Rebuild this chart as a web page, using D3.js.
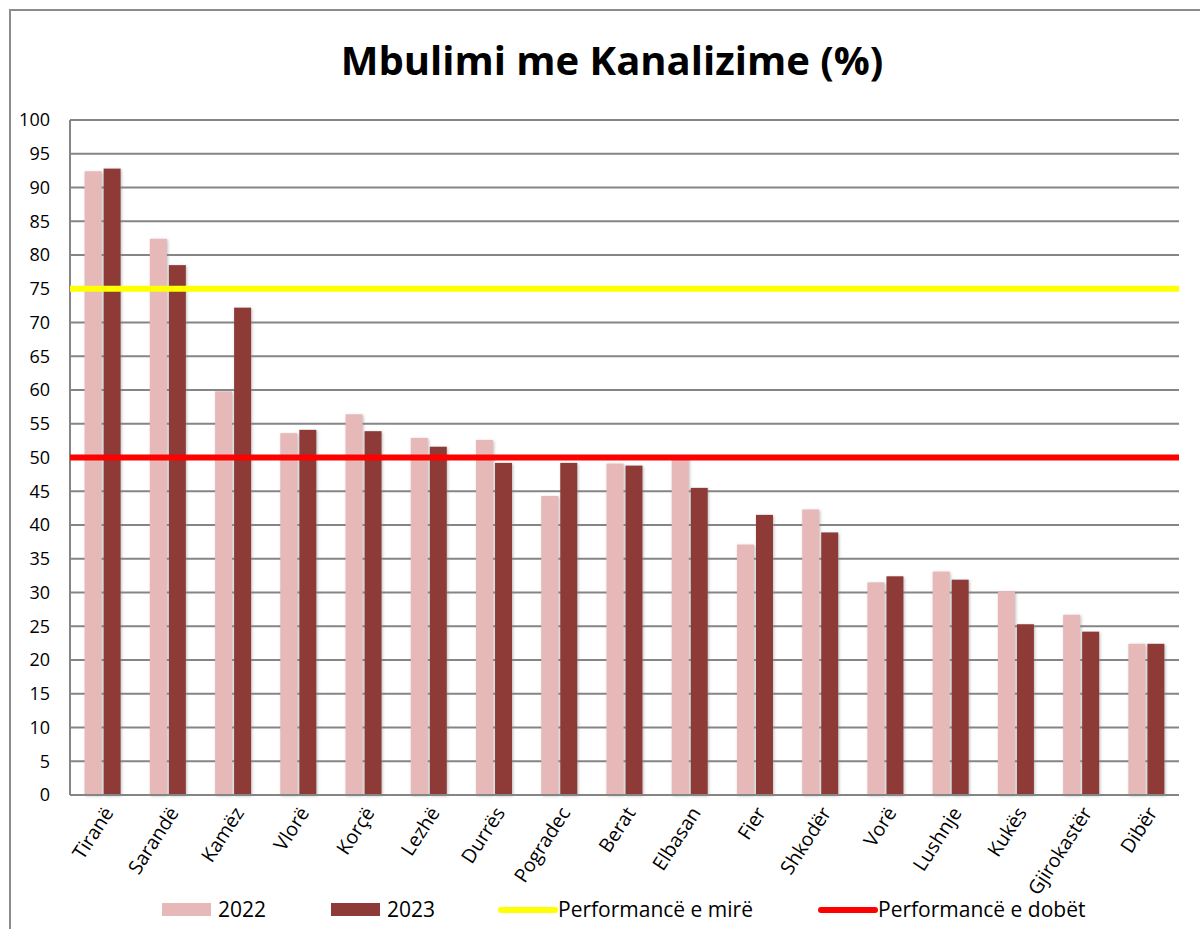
<!DOCTYPE html>
<html>
<head>
<meta charset="utf-8">
<script src="https://cdn.jsdelivr.net/npm/d3@7"></script>
<style>
  body { margin: 0; background: #fff; }
  svg { display: block; font-family: "Open Sans", sans-serif; }
</style>
</head>
<body>
<div id="chart"></div>
<script>
// Data
const cities = ["Tiranë", "Sarandë", "Kamëz", "Vlorë", "Korçë", "Lezhë", "Durrës", "Pogradec",
    "Berat", "Elbasan", "Fier", "Shkodër", "Vorë", "Lushnje", "Kukës", "Gjirokastër", "Dibër"];
const values2022 = [92.4, 82.4, 59.8, 53.6, 56.4, 52.9, 52.6, 44.3, 49.1, 50.1, 37.1, 42.3, 31.5, 33.1, 30.2, 26.7, 22.4];
const values2023 = [92.8, 78.5, 72.2, 54.1, 53.9, 51.6, 49.2, 49.2, 48.8, 45.5, 41.5, 38.9, 32.4, 31.9, 25.3, 24.2, 22.4];
const goodLevel = 75;
const poorLevel = 50;
const yTicks = d3.range(0, 101, 5);

const W = 1200, H = 929;
const margin = { top: 120, right: 21, bottom: 134, left: 70 };
const width = W - margin.left - margin.right;
const height = H - margin.top - margin.bottom;

const svg = d3.select("#chart").append("svg").attr("width", W).attr("height", H);

const defs = svg.append("defs");
const shadow = defs.append("filter").attr("id", "shadow")
    .attr("x", "-30%").attr("y", "-5%").attr("width", "160%").attr("height", "110%");
shadow.append("feDropShadow")
    .attr("dx", 1).attr("dy", 1).attr("stdDeviation", 1.5)
    .attr("flood-color", "#888").attr("flood-opacity", 0.55);

// outer border
svg.append("rect")
    .attr("x", 10).attr("y", 10).attr("width", W + 10).attr("height", H + 10)
    .attr("fill", "none").attr("stroke", "#8c8c8c").attr("stroke-width", 2);

// title
svg.append("text")
    .attr("x", 612).attr("y", 75)
    .attr("text-anchor", "middle")
    .attr("font-size", 40).attr("font-weight", "bold")
    .text("Mbulimi me Kanalizime (%)");

const g = svg.append("g").attr("transform", `translate(${margin.left},${margin.top})`);

const x = d3.scaleBand().domain(cities).range([0, width]);
const y = d3.scaleLinear().domain([0, 100]).range([height, 0]);

// gridlines
g.append("g")
    .selectAll("line")
    .data(yTicks)
    .enter().append("line")
    .attr("x1", 0).attr("x2", width)
    .attr("y1", d => y(d)).attr("y2", d => y(d))
    .attr("stroke", "#858585").attr("stroke-width", 2);

// y labels
g.append("g")
    .selectAll("text")
    .data(yTicks)
    .enter().append("text")
    .attr("x", -20).attr("y", d => y(d))
    .attr("dy", "0.35em")
    .attr("text-anchor", "end")
    .attr("font-size", 18)
    .text(d => d);

// bars
const barW = 17;
const bars = g.append("g").attr("filter", "url(#shadow)");
bars.selectAll(".b22")
    .data(cities)
    .enter().append("rect")
    .attr("class", "b22")
    .attr("x", d => x(d) + x.bandwidth() / 2 - barW - 1)
    .attr("y", (d, i) => y(values2022[i]))
    .attr("width", barW)
    .attr("height", (d, i) => height - y(values2022[i]))
    .attr("fill", "#E6B9B8");
bars.selectAll(".b23")
    .data(cities)
    .enter().append("rect")
    .attr("class", "b23")
    .attr("x", d => x(d) + x.bandwidth() / 2 + 1)
    .attr("y", (d, i) => y(values2023[i]))
    .attr("width", barW)
    .attr("height", (d, i) => height - y(values2023[i]))
    .attr("fill", "#8E3A38");

// axis lines
g.append("line").attr("x1", 0).attr("x2", 0).attr("y1", 0).attr("y2", height)
    .attr("stroke", "#858585").attr("stroke-width", 2);
g.append("line").attr("x1", 0).attr("x2", width).attr("y1", height).attr("y2", height)
    .attr("stroke", "#858585").attr("stroke-width", 2);

// performance lines
g.append("line")
    .attr("x1", 0).attr("x2", width)
    .attr("y1", y(goodLevel)).attr("y2", y(goodLevel))
    .attr("stroke", "#FFFF00").attr("stroke-width", 6);
g.append("line")
    .attr("x1", 0).attr("x2", width)
    .attr("y1", y(poorLevel)).attr("y2", y(poorLevel))
    .attr("stroke", "#FF0000").attr("stroke-width", 6);

// x labels
g.append("g")
    .selectAll("text")
    .data(cities)
    .enter().append("text")
    .attr("transform", d => `translate(${x(d) + x.bandwidth() / 2 + 6},${height + 14}) rotate(-57)`)
    .attr("text-anchor", "end")
    .attr("dy", "0.35em")
    .attr("font-size", 19.5)
    .text(d => d);

// legend
const legend = svg.append("g");
const legendItems = [
    { label: "2022", type: "rect", color: "#E6B9B8", x: 162 },
    { label: "2023", type: "rect", color: "#8E3A38", x: 331 },
    { label: "Performancë e mirë", type: "line", color: "#FFFF00", x: 501 },
    { label: "Performancë e dobët", type: "line", color: "#FF0000", x: 821 }
];
legendItems.forEach(it => {
    if (it.type === "rect") {
        legend.append("rect").attr("x", it.x).attr("y", 903).attr("width", 49).attr("height", 13)
            .attr("fill", it.color);
    } else {
        legend.append("line").attr("x1", it.x).attr("x2", it.x + 54).attr("y1", 910).attr("y2", 910)
            .attr("stroke", it.color).attr("stroke-width", 6).attr("stroke-linecap", "round");
    }
    legend.append("text")
        .attr("x", it.type === "rect" ? it.x + 56 : it.x + 57)
        .attr("y", 910).attr("dy", "0.35em")
        .attr("font-size", 21)
        .text(it.label);
});
</script>
</body>
</html>
